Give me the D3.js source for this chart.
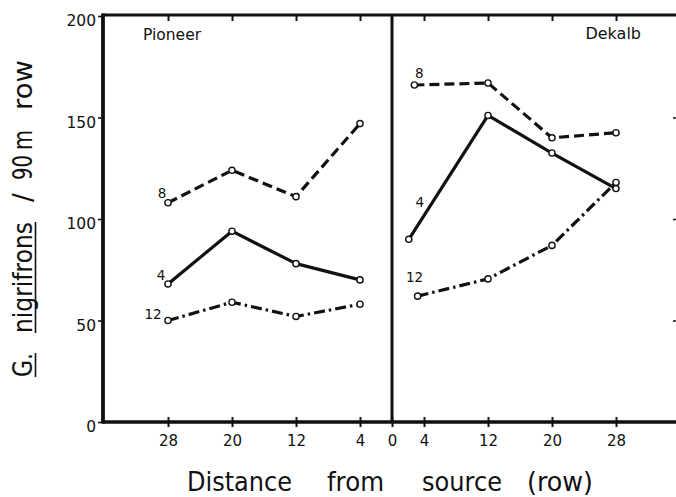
<!DOCTYPE html>
<html><head><meta charset="utf-8">
<script src="https://cdn.jsdelivr.net/npm/d3@7"></script>
<style>body{margin:0;background:#fff} svg{display:block}</style>
</head><body><svg id="c" width="676" height="497"></svg>
<script>
// ---- data ----
const pioneerDistance = [28, 20, 12, 4];
const pioneer8  = [108, 124, 111, 147];
const pioneer4  = [68, 94, 78, 70];
const pioneer12 = [50, 59, 52, 58];
const dekalbDistance8  = [2.8, 12, 20, 28];
const dekalbDistance4  = [2.1, 12, 20, 28];
const dekalbDistance12 = [3.2, 12, 20, 28];
const dekalb8  = [166, 167, 140, 142.5];
const dekalb4  = [90, 151, 132.5, 115];
const dekalb12 = [62, 70.5, 87, 118];
const xTickValues = [-28, -20, -12, -4, 0, 4, 12, 20, 28];
const topTickValues = [-28, -20, -12, -4, 4, 12, 20, 28];
const yTickValues = [0, 50, 100, 150, 200];
const rightTickValues = [50, 100, 150];
const panelNames = ["Pioneer", "Dekalb"];
const seriesNames = ["8", "4", "12"];
const yTitleWords = ["G.", "nigrifrons", "/", "90", "m", "row"];
const xTitleWords = ["Distance", "from", "source", "(row)"];

// ---- layout ----
const svg = d3.select("#c");
const x = d3.scaleLinear().domain([-36, 36]).range([104, 680]);
const y = d3.scaleLinear().domain([0, 200]).range([422, 16]);
const font = "DejaVu Sans, Verdana, sans-serif";

const styles = {
  "8":  {dash: "10,5"},
  "4":  {dash: null},
  "12": {dash: "11,4,2.5,4"}
};

const series = [
  {panel: 0, name: "8",  xs: pioneerDistance.map(d => -d), ys: pioneer8,  lab: [-6, -10]},
  {panel: 0, name: "4",  xs: pioneerDistance.map(d => -d), ys: pioneer4,  lab: [-7, -9]},
  {panel: 0, name: "12", xs: pioneerDistance.map(d => -d), ys: pioneer12, lab: [-15, -7]},
  {panel: 1, name: "8",  xs: dekalbDistance8,  ys: dekalb8,  lab: [5, -12]},
  {panel: 1, name: "4",  xs: dekalbDistance4,  ys: dekalb4,  lab: [11, -37]},
  {panel: 1, name: "12", xs: dekalbDistance12, ys: dekalb12, lab: [-3, -19]}
];

const line = d3.line().x(d => x(d[0])).y(d => y(d[1]));

// lines
series.forEach(s => {
  const pts = s.xs.map((v, i) => [v, s.ys[i]]);
  svg.append("path").attr("d", line(pts))
    .attr("fill", "none").attr("stroke", "#111").attr("stroke-width", 3.2)
    .attr("stroke-linejoin", "round")
    .attr("stroke-dasharray", styles[s.name].dash);
});
// markers + series labels
series.forEach(s => {
  svg.append("g").selectAll("circle").data(s.xs.map((v, i) => [v, s.ys[i]])).join("circle")
    .attr("cx", d => x(d[0])).attr("cy", d => y(d[1])).attr("r", 3.1)
    .attr("fill", "#fff").attr("stroke", "#111").attr("stroke-width", 1.4);
  svg.append("text").attr("x", x(s.xs[0]) + s.lab[0]).attr("y", y(s.ys[0]) + s.lab[1] + 5)
    .attr("text-anchor", "middle").attr("font-family", font).attr("font-size", 13.5)
    .attr("fill", "#111").text(s.name);
});

// ---- frame & axes ----
const stroke = "#111";
// bottom axis
const gB = svg.append("g").attr("transform", `translate(0,${y(0)})`)
  .call(d3.axisBottom(x).tickValues(xTickValues).tickFormat(d => Math.abs(d)).tickSizeInner(5).tickSizeOuter(0).tickPadding(8));
gB.select(".domain").remove();
gB.selectAll(".tick line").attr("y1", -5).attr("stroke", stroke).attr("stroke-width", 2);
gB.selectAll(".tick text").attr("font-family", font).attr("font-size", 15).attr("fill", stroke);
svg.append("line").attr("x1", x(-36) - 2).attr("x2", 676).attr("y1", y(0)).attr("y2", y(0))
  .attr("stroke", stroke).attr("stroke-width", 3.5);

// top axis
const gT = svg.append("g").attr("transform", `translate(0,${y(200)})`)
  .call(d3.axisTop(x).tickValues(topTickValues).tickFormat("").tickSizeInner(-5).tickSizeOuter(0));
gT.select(".domain").remove();
gT.selectAll(".tick line").attr("stroke", stroke).attr("stroke-width", 2);
svg.append("line").attr("x1", x(-36) - 2).attr("x2", 676).attr("y1", y(200) - 1).attr("y2", y(200) - 1)
  .attr("stroke", stroke).attr("stroke-width", 3.2);

// left axis
const gL = svg.append("g").attr("transform", `translate(${x(-36) - 1},0)`)
  .call(d3.axisLeft(y).tickValues(yTickValues).tickSizeInner(5).tickSizeOuter(0).tickPadding(2));
gL.select(".domain").remove();
gL.selectAll(".tick line").attr("stroke", stroke).attr("stroke-width", 1.6);
gL.selectAll(".tick text").attr("font-family", font).attr("font-size", 15.5).attr("fill", stroke)
  .attr("dy", "0.62em");
svg.append("line").attr("x1", x(-36) - 1).attr("x2", x(-36) - 1).attr("y1", y(200) - 2.5).attr("y2", y(0) + 1.5)
  .attr("stroke", stroke).attr("stroke-width", 3.8);

// right axis (mostly off-canvas)
const gR = svg.append("g").attr("transform", `translate(${x(36)},0)`)
  .call(d3.axisRight(y).tickValues(rightTickValues).tickFormat("").tickSizeInner(-7).tickSizeOuter(0));
gR.select(".domain").remove();
gR.selectAll(".tick line").attr("stroke", stroke).attr("stroke-width", 1.5);

// divider
svg.append("line").attr("x1", x(0)).attr("x2", x(0)).attr("y1", y(200)).attr("y2", y(0))
  .attr("stroke", stroke).attr("stroke-width", 3);

// panel titles
svg.append("text").attr("x", 143).attr("y", 40).attr("font-family", font).attr("font-size", 15.5)
  .attr("fill", stroke).text(panelNames[0]);
svg.append("text").attr("x", 641).attr("y", 39).attr("text-anchor", "end").attr("font-family", font).attr("font-size", 16)
  .attr("fill", stroke).text(panelNames[1]);

// x title: word spans
const xSpans = [[187, 292], [327, 384], [422, 502], [527, 593]];
xTitleWords.forEach((w, i) => {
  svg.append("text").attr("x", xSpans[i][0]).attr("y", 491)
    .attr("font-family", font).attr("font-size", 27).attr("fill", stroke)
    .attr("textLength", xSpans[i][1] - xSpans[i][0]).attr("lengthAdjust", "spacingAndGlyphs")
    .text(w);
});

// y title (rotated), spans along screen y from bottom to top
const ySpans = [[377, 353], [333, 222], [207, 188], [180, 155], [150, 130], [110, 60]];
const gY = svg.append("g").attr("transform", "rotate(-90)");
yTitleWords.forEach((w, i) => {
  const t = gY.append("text").attr("y", 32)
    .attr("font-family", font).attr("font-size", 26).attr("fill", stroke)
    .text(w);
  if (w === "/") {
    t.attr("x", -(ySpans[i][0] + ySpans[i][1]) / 2).attr("text-anchor", "middle");
  } else {
    t.attr("x", -ySpans[i][0])
      .attr("textLength", ySpans[i][0] - ySpans[i][1]).attr("lengthAdjust", "spacingAndGlyphs");
  }
});
[0, 1].forEach(i => {
  gY.append("line").attr("x1", -ySpans[i][0]).attr("x2", -ySpans[i][1])
    .attr("y1", 35.5).attr("y2", 35.5).attr("stroke", stroke).attr("stroke-width", 1.6);
});
</script></body></html>
